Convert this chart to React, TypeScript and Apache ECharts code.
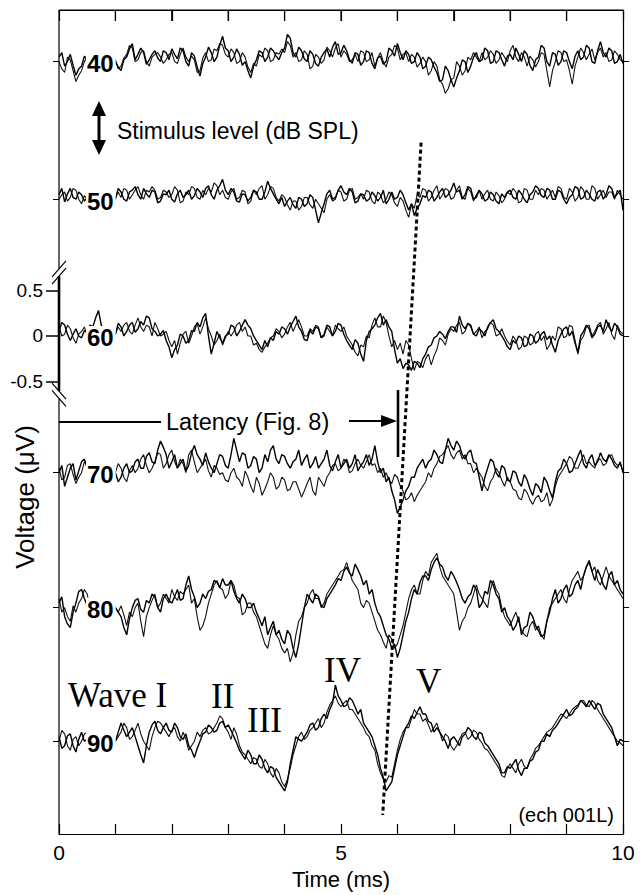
import React, { useEffect, useRef } from "react";
import * as echarts from "echarts";

// Stimulus levels (dB SPL) and vertical offset of each trace baseline (µV)
const levels = ["40", "50", "60", "70", "80", "90"];
const baselineOffsets = [3.03, 1.51, 0, -1.51, -3.0, -4.475];

// Time axis
const timeMin = 0;
const timeMax = 10;
const timeTicks = [1, 2, 3, 4, 5, 6, 7, 8, 9];
const timeTickLabels = [0, 5, 10];
// Voltage scale bar labels
const voltTickLabels = [0.5, 0, -0.5];

// Traces (µV relative to their own baseline), sampled every 0.05 ms from 0 to 10 ms
const trace40a = [0.05,0.1,-0.05,0.0,0.08,-0.04,-0.15,-0.08,-0.05,0.06,0.02,-0.03,0.0,0.08,0.05,0.0,-0.02,0.06,0.03,0.08,
0.0,-0.06,-0.1,0.02,0.05,0.14,0.2,0.02,0.08,0.15,0.1,-0.03,0.02,0.08,0.12,0.04,0.0,0.12,0.1,0.02,
0.14,0.08,0.03,0.15,0.12,0.0,-0.05,0.1,0.06,-0.06,-0.16,-0.02,0.05,0.16,0.1,0.0,0.05,0.18,0.28,0.15,
0.12,0.0,0.05,0.14,0.08,-0.04,0.0,-0.1,-0.18,-0.05,0.02,0.12,0.1,0.0,0.05,0.15,0.12,0.06,0.02,0.1,
0.15,0.3,0.26,0.1,0.05,0.16,0.12,0.03,0.0,0.12,0.08,-0.02,-0.05,0.05,0.1,0.14,0.05,0.16,0.22,0.08,
0.1,0.18,0.12,0.02,-0.02,0.1,0.08,-0.04,0.0,0.12,0.1,-0.02,-0.08,0.04,0.06,-0.03,0.0,0.15,0.12,0.06,
0.2,0.1,0.02,0.12,0.08,-0.02,0.0,0.1,0.05,-0.08,-0.05,0.05,0.02,-0.06,-0.12,-0.22,-0.2,-0.05,-0.1,-0.2,
-0.28,-0.18,-0.1,0.02,0.0,-0.12,-0.05,0.05,0.1,0.0,0.02,0.15,0.12,-0.02,0.0,0.12,0.1,0.02,-0.05,0.06,
0.08,0.02,0.15,0.08,0.0,0.12,0.08,-0.04,-0.1,0.02,0.05,0.18,0.15,0.0,-0.05,0.1,0.08,-0.04,0.0,0.12,
0.1,0.0,-0.08,0.06,0.12,0.02,0.05,0.18,0.15,0.0,-0.02,0.12,0.22,0.1,0.05,0.15,0.12,-0.02,0.0,0.08,
-0.02];
const trace40b = [0.0,-0.08,-0.12,0.05,0.02,-0.1,-0.22,-0.15,-0.1,0.0,0.05,-0.02,0.0,0.06,0.02,0.1,0.05,-0.05,-0.03,0.04,
0.02,-0.08,-0.05,0.04,0.08,0.18,0.15,0.0,0.02,0.1,0.12,0.0,-0.05,0.05,0.08,0.1,0.05,-0.02,0.02,0.08,
0.1,0.0,-0.02,0.08,0.15,0.05,0.0,0.06,0.02,-0.12,-0.1,0.04,0.1,0.0,0.02,0.14,0.12,0.2,0.18,0.08,
0.05,0.14,0.1,-0.02,0.0,0.1,0.05,-0.06,-0.12,-0.02,-0.05,0.08,0.05,0.15,0.12,0.0,0.02,0.1,0.08,0.14,
0.1,0.22,0.18,0.05,0.1,0.0,0.02,0.12,0.08,-0.08,-0.05,0.08,0.05,-0.02,0.02,0.16,0.12,0.05,0.15,0.2,
0.05,0.12,0.08,0.0,0.02,0.08,0.0,0.12,0.1,0.0,0.02,0.1,-0.05,0.04,0.1,0.0,-0.06,0.05,0.08,0.18,
0.15,0.02,0.08,0.1,0.0,0.08,0.05,-0.06,-0.02,0.05,0.0,-0.15,-0.1,0.0,-0.05,-0.2,-0.25,-0.35,-0.3,-0.2,
-0.18,0.0,-0.05,-0.15,-0.1,0.05,0.02,0.1,0.05,0.0,0.1,0.02,0.05,0.12,0.08,-0.02,0.02,0.1,0.05,0.0,
0.12,0.18,0.05,0.0,0.1,0.05,-0.05,0.06,0.02,-0.06,0.0,0.1,0.08,-0.1,-0.28,-0.1,0.0,0.12,0.1,0.0,
0.02,-0.1,-0.25,-0.05,0.05,0.15,0.1,0.02,0.08,0.14,0.02,0.1,0.15,0.05,0.1,0.0,0.02,0.12,0.08,0.02,
0.0];
const trace50a = [0.05,0.12,-0.03,0.06,0.12,0.02,0.0,0.08,0.05,-0.02,0.02,0.06,0.0,0.05,0.03,0.0,0.0,0.05,0.02,0.06,
0.0,0.12,0.08,0.0,-0.02,0.08,0.1,0.14,0.05,0.0,0.12,0.06,0.02,0.1,0.08,-0.04,-0.02,0.06,0.05,0.1,
0.0,-0.03,0.06,0.1,0.02,0.05,0.1,0.0,0.04,0.12,0.08,0.02,0.12,0.15,0.05,0.0,0.1,0.15,0.22,0.1,
0.05,0.12,0.08,-0.02,-0.03,0.06,0.05,-0.02,0.02,0.1,0.08,0.0,0.0,0.08,0.2,0.12,0.06,0.0,-0.05,0.02,
-0.08,-0.02,0.02,-0.06,-0.1,0.02,0.0,-0.08,-0.05,0.05,0.02,-0.12,-0.26,-0.15,-0.05,0.06,0.1,0.0,0.02,0.1,
0.15,0.08,0.05,0.12,0.08,-0.04,-0.02,0.06,0.05,-0.02,0.0,0.08,0.04,-0.02,0.02,0.1,-0.05,0.0,0.08,0.0,
0.02,0.1,0.05,-0.04,-0.12,-0.05,-0.18,-0.1,-0.05,0.04,0.02,0.1,0.08,-0.02,0.02,0.08,0.12,0.02,0.05,0.1,
0.18,0.08,0.1,0.0,0.05,0.14,0.12,0.0,0.02,0.1,0.06,-0.02,0.0,0.08,0.05,-0.02,-0.05,0.06,0.02,0.08,
0.1,0.02,0.0,0.1,0.06,0.0,-0.04,0.05,0.08,0.15,0.12,0.04,0.02,0.12,0.1,0.0,0.0,0.1,0.08,0.0,
-0.05,0.02,0.05,0.14,0.12,0.0,0.02,0.1,0.06,0.0,-0.02,0.08,0.1,0.0,0.05,0.15,0.12,0.02,0.06,0.1,
-0.12];
const trace50b = [0.0,0.05,0.08,-0.02,0.02,0.12,0.1,0.0,-0.05,0.04,0.0,0.06,0.02,-0.02,0.0,0.08,0.05,-0.03,0.0,0.05,
0.02,0.08,0.02,0.12,0.1,0.0,0.05,0.1,0.14,0.05,0.0,0.1,0.08,0.14,0.1,0.0,0.02,0.1,0.08,0.02,
0.05,0.14,0.1,-0.04,-0.02,0.08,0.05,0.14,0.12,0.02,0.0,0.1,0.05,0.12,0.08,0.18,0.15,0.05,0.1,0.02,
0.0,0.08,0.12,0.0,0.02,0.1,0.08,-0.05,-0.02,0.1,0.05,0.12,0.15,0.0,0.05,0.14,0.12,0.02,-0.02,0.05,
0.02,-0.06,-0.12,-0.02,-0.02,-0.12,-0.08,0.02,0.02,-0.06,-0.1,0.0,-0.05,-0.1,-0.15,0.0,0.05,-0.02,0.0,0.1,
0.08,-0.02,0.0,0.1,0.12,0.0,0.02,0.06,0.0,0.1,0.08,-0.02,-0.05,0.08,0.05,-0.04,0.0,0.08,0.05,-0.04,
-0.08,0.02,-0.02,-0.12,-0.2,-0.05,-0.1,0.05,0.02,0.12,0.1,-0.02,0.02,0.1,0.15,0.0,0.05,0.12,0.1,0.0,
0.02,0.1,0.15,0.02,0.0,0.12,0.08,-0.02,0.05,0.1,0.0,0.06,0.1,0.0,-0.02,0.08,0.04,-0.04,0.0,0.08,
0.05,0.12,0.08,-0.04,-0.02,0.12,0.1,0.0,0.0,0.1,0.05,0.12,0.1,0.0,0.05,0.1,0.02,0.14,0.12,0.02,
0.0,0.12,0.08,-0.02,0.02,0.14,0.1,0.0,0.0,0.15,0.12,0.0,0.05,0.1,0.02,0.08,0.08,0.0,0.1,0.05,
0.0];
const trace60a = [0.05,0.15,0.12,0.02,-0.05,0.02,0.08,0.0,-0.02,0.06,0.05,0.12,0.1,0.2,0.28,0.12,0.05,0.0,0.0,0.06,
0.02,0.14,0.1,0.0,0.05,0.12,0.15,0.04,0.08,0.16,0.12,0.22,0.2,0.08,0.05,0.0,0.02,0.06,-0.05,-0.12,
-0.24,-0.15,-0.1,0.02,0.0,-0.08,-0.05,0.06,0.05,0.15,0.1,0.2,0.25,0.0,-0.2,-0.08,0.05,-0.02,-0.08,0.0,
0.02,0.12,0.1,0.0,0.05,0.12,0.18,0.12,0.08,0.0,-0.05,-0.1,-0.15,-0.05,-0.12,-0.02,-0.05,0.05,0.02,0.1,
0.08,0.02,0.1,0.16,0.22,0.1,0.05,-0.04,-0.05,0.06,0.02,0.1,0.08,-0.02,0.02,0.12,0.1,0.0,0.05,0.14,
0.12,0.02,-0.05,-0.1,-0.15,-0.04,-0.08,-0.2,-0.28,-0.05,0.05,0.08,0.12,0.2,0.25,0.12,0.18,0.1,0.05,-0.15,
-0.3,-0.25,-0.36,-0.3,-0.32,-0.38,-0.28,-0.3,-0.35,-0.25,-0.2,-0.12,-0.1,-0.02,0.0,0.05,0.02,-0.03,0.05,0.1,
0.1,0.04,0.22,0.12,0.08,0.14,0.12,0.02,0.0,0.08,0.05,0.0,0.1,0.15,0.18,0.08,0.05,0.0,-0.05,-0.12,
-0.15,-0.05,-0.08,0.0,-0.02,-0.12,-0.1,0.02,0.0,-0.08,-0.05,0.02,0.05,-0.04,0.0,-0.1,-0.18,-0.05,0.02,0.08,
0.1,0.0,0.05,-0.08,-0.18,0.0,0.05,0.12,0.08,-0.02,0.02,0.1,0.12,0.05,0.18,0.1,0.05,0.14,0.1,0.02,
0.0];
const trace60b = [0.1,0.0,0.02,0.12,0.08,-0.02,-0.08,0.02,0.05,0.1,0.0,0.08,0.05,0.0,0.1,0.04,0.0,0.08,0.05,0.0,
0.02,0.1,0.05,0.12,0.15,0.05,0.02,0.12,0.2,0.1,0.05,0.12,0.1,0.0,0.15,0.08,0.0,0.02,0.05,-0.05,
-0.12,-0.05,-0.2,-0.08,0.02,0.05,-0.08,0.0,0.1,0.14,0.02,0.1,0.2,0.08,0.0,-0.1,-0.05,0.02,-0.1,-0.02,
0.05,0.0,0.05,0.12,0.15,0.05,0.1,0.0,0.0,-0.1,-0.08,-0.15,-0.18,-0.12,-0.08,-0.02,0.0,0.08,0.05,-0.02,
0.02,0.1,0.15,0.05,0.12,0.18,0.1,0.0,0.0,0.08,0.05,0.12,0.1,-0.02,0.0,0.1,0.05,0.0,0.12,0.08,
0.05,0.1,0.0,-0.05,-0.1,-0.18,-0.22,-0.1,-0.12,0.0,-0.02,0.12,0.2,0.1,0.1,0.22,0.15,0.0,-0.12,-0.05,
-0.15,-0.08,-0.2,-0.05,-0.1,-0.25,-0.38,-0.28,-0.3,-0.35,-0.25,-0.2,-0.32,-0.22,-0.15,-0.02,-0.05,-0.1,0.02,0.08,
0.05,0.12,0.15,0.02,0.05,0.14,0.1,0.02,0.05,0.1,-0.02,0.05,0.08,0.15,0.12,0.0,0.02,0.08,0.0,-0.06,
-0.1,0.0,-0.05,-0.15,-0.12,0.0,-0.02,-0.1,-0.08,0.02,0.05,-0.05,0.0,-0.15,-0.1,0.0,-0.05,0.1,0.08,-0.02,
0.0,0.12,0.1,-0.05,-0.2,-0.05,0.0,0.1,0.12,0.0,0.05,0.12,0.15,0.02,0.08,0.15,0.02,-0.04,0.12,0.05,
0.02];
const trace70a = [0.0,0.08,-0.15,-0.05,0.05,0.1,-0.08,0.02,0.12,0.15,0.05,0.0,0.0,0.0,0.0,0.0,0.0,0.0,0.0,0.0,
0.0,-0.1,-0.05,0.05,0.1,0.0,0.02,0.12,0.15,0.05,0.05,0.18,0.22,0.12,0.1,0.25,0.35,0.28,0.2,0.05,
0.12,0.2,0.05,0.1,0.15,0.02,0.08,0.22,0.3,0.2,0.15,0.08,0.22,0.12,0.05,0.0,0.1,0.2,0.18,0.08,
0.05,0.2,0.38,0.25,0.12,0.22,0.2,0.05,0.08,0.18,0.15,0.0,0.05,0.2,0.12,0.25,0.3,0.15,0.1,0.2,
0.18,0.1,0.05,0.12,0.15,0.25,0.08,0.15,0.2,0.05,0.1,0.18,0.05,0.1,0.15,0.25,0.08,0.02,0.12,0.2,
0.05,0.1,0.15,0.05,0.1,0.2,0.02,0.08,0.12,0.2,0.08,0.15,0.3,0.12,0.0,0.05,-0.1,-0.05,-0.2,-0.3,
-0.45,-0.38,-0.3,-0.2,-0.15,-0.05,-0.05,0.05,0.1,0.15,0.05,0.12,0.15,0.25,0.2,0.12,0.1,0.25,0.38,0.3,
0.25,0.35,0.3,0.2,0.15,0.22,0.25,0.12,0.1,-0.05,-0.2,-0.05,0.05,0.15,0.12,0.0,-0.05,0.08,0.05,-0.08,
-0.1,0.02,0.0,-0.1,-0.15,-0.02,-0.08,-0.18,-0.25,-0.12,-0.15,-0.22,-0.05,-0.1,-0.2,-0.28,-0.1,0.02,0.05,0.15,
0.1,0.0,0.02,0.1,0.18,0.25,0.1,0.05,0.15,0.2,0.08,0.12,0.22,0.15,0.12,0.2,0.15,0.08,0.05,0.12,
0.0];
const trace70b = [0.05,-0.08,-0.05,0.08,0.1,-0.02,-0.12,-0.05,0.0,0.12,0.08,0.0,0.0,0.0,0.0,0.0,0.0,0.0,0.0,0.0,
0.0,0.1,0.05,-0.05,-0.1,0.02,0.08,0.0,0.05,0.15,0.2,0.08,0.0,0.05,0.12,0.22,0.2,0.05,0.1,0.2,
0.25,0.12,0.05,0.15,0.1,0.0,0.2,0.25,0.12,0.0,0.05,0.1,0.15,0.02,-0.05,0.08,0.05,-0.02,0.0,-0.08,
-0.1,0.0,0.05,-0.05,-0.08,-0.15,0.02,-0.05,-0.15,-0.22,-0.05,-0.12,-0.25,-0.18,-0.1,0.0,-0.05,-0.18,-0.15,-0.05,
-0.08,-0.2,-0.18,-0.1,-0.1,-0.18,-0.27,-0.2,-0.12,-0.05,-0.2,-0.25,-0.05,-0.1,-0.15,-0.05,0.0,0.08,0.1,0.02,
0.05,0.15,0.12,0.0,0.02,0.1,0.15,0.08,0.05,0.12,0.2,0.08,0.1,0.0,0.05,-0.05,0.0,-0.08,-0.12,-0.02,
-0.05,-0.15,-0.2,-0.3,-0.28,-0.22,-0.32,-0.25,-0.2,-0.15,-0.1,0.0,-0.05,0.05,0.1,0.18,0.2,0.25,0.3,0.2,
0.15,0.22,0.25,0.15,0.2,0.1,0.1,0.0,0.05,0.0,-0.05,-0.15,-0.2,-0.1,-0.05,0.05,0.0,-0.08,-0.15,-0.05,
-0.1,-0.18,-0.2,-0.28,-0.3,-0.18,-0.22,-0.3,-0.35,-0.28,-0.25,-0.32,-0.3,-0.22,-0.37,-0.3,-0.15,-0.05,0.0,0.05,
0.1,0.18,0.15,0.05,0.05,0.12,0.2,0.1,0.12,0.08,0.05,0.15,0.15,0.08,0.1,0.18,0.2,0.12,0.08,0.1,
0.02];
const trace80a = [0.05,0.12,-0.1,-0.18,-0.22,-0.05,0.05,0.18,0.2,0.1,0.02,0.0,0.0,0.0,0.0,0.0,0.0,0.0,0.0,0.0,
0.0,-0.05,-0.1,-0.22,-0.3,-0.12,0.0,0.08,0.1,-0.02,-0.05,0.08,0.05,0.15,0.12,0.0,-0.05,0.1,0.15,0.08,
0.05,0.12,0.2,0.08,0.1,0.25,0.35,0.2,0.12,0.0,0.05,0.15,0.1,0.18,0.2,0.3,0.28,0.22,0.32,0.25,
0.25,0.3,0.18,0.1,0.05,0.15,0.1,0.0,0.0,0.05,-0.05,-0.12,-0.2,-0.1,-0.3,-0.22,-0.15,-0.3,-0.25,-0.35,
-0.4,-0.25,-0.3,-0.45,-0.55,-0.4,-0.2,0.0,0.15,0.1,0.05,0.15,0.12,0.02,0.0,0.1,0.15,0.2,0.25,0.32,
0.3,0.4,0.45,0.38,0.35,0.48,0.42,0.35,0.25,0.3,0.15,0.2,0.05,-0.05,-0.1,-0.2,-0.3,-0.35,-0.45,-0.4,
-0.55,-0.45,-0.3,-0.15,-0.05,0.1,0.2,0.15,0.28,0.35,0.35,0.3,0.42,0.5,0.55,0.48,0.45,0.35,0.3,0.4,
0.35,0.28,0.2,0.1,0.05,0.12,0.15,0.25,0.2,0.0,0.05,0.18,0.15,0.3,0.25,0.15,0.1,-0.05,0.0,-0.1,
-0.15,-0.25,-0.2,-0.1,-0.3,-0.22,-0.2,-0.05,-0.1,-0.2,-0.25,-0.32,-0.3,-0.15,-0.05,0.1,0.2,0.05,0.1,0.2,
0.25,0.12,0.15,0.25,0.3,0.2,0.35,0.45,0.52,0.4,0.3,0.42,0.35,0.25,0.2,0.35,0.4,0.25,0.3,0.2,
0.15];
const trace80b = [0.1,-0.05,0.0,-0.1,-0.15,0.02,-0.05,0.05,0.1,0.2,0.15,0.0,0.0,0.0,0.0,0.0,0.0,0.0,0.0,0.0,
0.0,-0.05,0.02,-0.08,-0.2,-0.05,-0.1,0.0,0.05,-0.15,-0.32,-0.1,0.0,0.08,0.15,0.0,0.05,0.15,0.1,0.05,
0.2,0.12,0.08,0.18,0.15,0.2,0.25,0.05,0.1,-0.1,-0.25,-0.2,-0.1,0.05,0.15,0.25,0.3,0.22,0.2,0.1,
0.15,0.3,0.25,0.12,0.1,-0.08,-0.05,0.05,0.05,-0.05,-0.1,-0.2,-0.3,-0.4,-0.45,-0.3,-0.2,-0.3,-0.35,-0.45,
-0.5,-0.45,-0.6,-0.5,-0.3,-0.15,-0.1,0.0,0.05,0.15,0.2,0.1,0.1,0.0,0.05,0.15,0.2,0.25,0.3,0.35,
0.4,0.42,0.5,0.4,0.3,0.25,0.2,0.05,0.0,0.08,0.05,-0.05,-0.15,-0.25,-0.3,-0.38,-0.45,-0.3,-0.35,-0.45,
-0.4,-0.3,-0.2,-0.05,0.1,0.2,0.25,0.15,0.15,0.3,0.4,0.35,0.5,0.55,0.6,0.45,0.35,0.3,0.25,0.2,
0.15,-0.05,-0.25,-0.15,-0.1,0.0,0.05,0.15,0.25,0.15,0.1,0.05,0.0,0.2,0.3,0.2,0.15,0.0,-0.1,-0.15,
-0.2,-0.12,-0.05,-0.15,-0.25,-0.3,-0.32,-0.2,-0.15,-0.25,-0.2,-0.3,-0.35,-0.15,0.0,0.05,0.1,0.15,0.2,0.1,
0.05,0.2,0.3,0.35,0.4,0.3,0.35,0.45,0.5,0.4,0.45,0.3,0.25,0.35,0.45,0.35,0.3,0.25,0.2,0.15,
0.1];
const trace90a = [0.05,-0.08,-0.05,0.06,0.08,-0.05,-0.12,0.02,0.1,0.0,0.02,0.0,0.0,0.0,0.0,0.0,0.0,0.0,0.0,0.0,
0.0,0.1,0.2,0.12,0.05,0.1,0.15,0.05,-0.05,-0.15,-0.24,-0.05,0.1,0.18,0.22,0.12,0.08,0.15,0.2,0.12,
0.1,0.2,0.15,0.05,0.02,0.08,-0.05,-0.1,-0.18,-0.08,0.0,0.08,0.1,0.18,0.15,0.1,0.12,0.2,0.22,0.15,
0.18,0.12,0.05,-0.02,-0.1,-0.15,-0.2,-0.1,-0.15,-0.25,-0.25,-0.15,-0.2,-0.3,-0.35,-0.28,-0.3,-0.4,-0.45,-0.5,
-0.55,-0.45,-0.25,-0.1,0.05,0.02,0.0,0.05,0.1,0.18,0.2,0.12,0.15,0.25,0.3,0.25,0.35,0.42,0.62,0.5,
0.45,0.38,0.4,0.48,0.45,0.38,0.3,0.35,0.2,0.15,0.1,0.05,-0.05,-0.15,-0.3,-0.4,-0.55,-0.5,-0.45,-0.3,
-0.15,-0.05,0.05,0.15,0.2,0.28,0.25,0.32,0.38,0.3,0.3,0.22,0.2,0.1,0.15,0.1,0.05,0.0,-0.08,0.02,
0.05,0.0,-0.05,0.05,0.08,0.15,0.12,0.05,0.02,0.1,0.08,-0.02,-0.05,-0.1,-0.15,-0.2,-0.25,-0.35,-0.35,-0.28,
-0.3,-0.25,-0.2,-0.32,-0.38,-0.3,-0.3,-0.22,-0.2,-0.12,-0.1,0.0,0.0,0.08,0.05,0.12,0.15,0.2,0.25,0.3,
0.35,0.28,0.3,0.35,0.38,0.45,0.42,0.38,0.45,0.4,0.35,0.42,0.4,0.3,0.25,0.2,0.15,0.05,-0.05,0.02,
0.0];
const trace90b = [0.0,0.12,0.08,-0.05,-0.1,0.02,0.05,-0.05,0.0,0.08,0.1,0.0,0.0,0.0,0.0,0.0,0.0,0.0,0.0,0.0,
0.0,0.05,0.1,0.2,0.15,0.02,0.05,0.12,0.2,0.08,0.0,-0.05,-0.1,0.05,0.15,0.22,0.2,0.15,0.1,0.05,
0.12,0.15,0.05,0.0,0.1,0.02,-0.1,-0.05,0.0,0.1,0.05,0.12,0.15,0.08,0.1,0.15,0.2,0.28,0.25,0.15,
0.1,0.02,0.15,0.08,-0.05,-0.12,-0.15,-0.2,-0.25,-0.18,-0.2,-0.28,-0.3,-0.2,-0.25,-0.35,-0.4,-0.3,-0.35,-0.45,
-0.5,-0.42,-0.3,-0.15,-0.05,0.05,0.1,0.02,0.05,0.12,0.15,0.2,0.25,0.15,0.2,0.32,0.4,0.45,0.5,0.42,
0.38,0.42,0.45,0.35,0.35,0.3,0.25,0.2,0.15,0.08,0.05,-0.05,-0.1,-0.25,-0.35,-0.42,-0.45,-0.38,-0.4,-0.25,
-0.1,0.02,0.1,0.15,0.15,0.25,0.35,0.3,0.3,0.22,0.25,0.18,0.1,0.15,0.2,0.1,0.0,0.08,0.05,-0.05,
-0.1,-0.05,0.02,0.08,0.1,0.02,0.05,0.12,0.1,0.02,-0.02,-0.08,-0.1,-0.15,-0.2,-0.25,-0.3,-0.38,-0.4,-0.3,
-0.25,-0.3,-0.35,-0.25,-0.2,-0.28,-0.3,-0.2,-0.15,-0.08,-0.05,0.0,0.05,0.1,0.12,0.15,0.2,0.25,0.3,0.28,
0.25,0.3,0.35,0.38,0.4,0.45,0.45,0.4,0.38,0.45,0.42,0.35,0.3,0.25,0.2,0.15,0.1,0.05,0.0,-0.02,
-0.05];

const tracesA = [trace40a, trace50a, trace60a, trace70a, trace80a, trace90a];
const tracesB = [trace40b, trace50b, trace60b, trace70b, trace80b, trace90b];

// Latency trend (dotted line) end points: [time ms, µV on the stacked axis]
const latencyTrend = [
  [6.42, 2.135],
  [5.74, -5.29],
];

const Y_MIN = -5.5;
const Y_MAX = 3.6;
const SANS = '"Liberation Sans", Arial, sans-serif';
const SERIF = '"Liberation Serif", "Times New Roman", serif';

function toSeries(arr: number[], offset: number) {
  const n = arr.length - 1;
  return arr.map((v, i) => [timeMin + ((timeMax - timeMin) * i) / n, v + offset]);
}

function buildOption() {
  const series: any[] = [];
  levels.forEach((_, i) => {
    series.push({
      type: "line",
      data: toSeries(tracesB[i], baselineOffsets[i]),
      showSymbol: false,
      symbol: "none",
      silent: true,
      lineStyle: { color: "#111", width: 1.1 },
      z: 2,
    });
    series.push({
      type: "line",
      data: toSeries(tracesA[i], baselineOffsets[i]),
      showSymbol: false,
      symbol: "none",
      silent: true,
      lineStyle: { color: "#000", width: 1.4 },
      z: 2,
    });
  });
  series.push({
    type: "line",
    data: latencyTrend,
    showSymbol: false,
    symbol: "none",
    silent: true,
    lineStyle: { color: "#000", width: 3, type: [4, 3] },
    z: 3,
  });

  return {
    animation: false,
    backgroundColor: "#fff",
    grid: { left: 59, right: 17, top: 10, bottom: 59 },
    xAxis: [
      {
        type: "value",
        min: timeMin,
        max: timeMax,
        interval: 1,
        position: "bottom",
        name: "Time (ms)",
        nameLocation: "middle",
        nameGap: 34,
        nameTextStyle: { fontSize: 22, color: "#000", fontFamily: SANS },
        axisLine: { show: true, onZero: false, lineStyle: { color: "#000", width: 1.2 } },
        axisTick: { show: true, inside: true, length: 10, lineStyle: { color: "#000", width: 1.2 } },
        axisLabel: {
          color: "#000",
          fontSize: 21,
          fontFamily: SANS,
          margin: 8,
          formatter: (v: number) => (timeTickLabels.includes(v) ? String(v) : ""),
        },
        splitLine: { show: false },
      },
      {
        type: "value",
        min: timeMin,
        max: timeMax,
        interval: 1,
        position: "top",
        axisLine: { show: true, onZero: false, lineStyle: { color: "#000", width: 1.2 } },
        axisTick: { show: true, inside: true, length: 11, lineStyle: { color: "#000", width: 1.2 } },
        axisLabel: { show: false },
        splitLine: { show: false },
      },
    ],
    yAxis: [
      {
        type: "value",
        min: Y_MIN,
        max: Y_MAX,
        position: "left",
        axisLine: { show: false, onZero: false },
        splitLine: { show: false },
        axisTick: { show: true, customValues: voltTickLabels, length: 13, lineStyle: { color: "#000", width: 1.5 } },
        axisLabel: {
          customValues: voltTickLabels,
          color: "#000",
          fontSize: 19,
          fontFamily: SANS,
          margin: 16,
          formatter: (v: number) => String(v),
        },
      },
      {
        type: "value",
        min: Y_MIN,
        max: Y_MAX,
        position: "left",
        axisLine: { show: false, onZero: false },
        splitLine: { show: false },
        axisTick: {
          show: true,
          customValues: baselineOffsets.filter((v) => v !== 0),
          length: 6,
          lineStyle: { color: "#000", width: 1 },
        },
        axisLabel: { show: false },
      },
      {
        type: "value",
        min: Y_MIN,
        max: Y_MAX,
        position: "right",
        axisLine: { show: true, onZero: false, lineStyle: { color: "#000", width: 1.2 } },
        splitLine: { show: false },
        axisTick: { show: true, customValues: baselineOffsets, length: 6, lineStyle: { color: "#000", width: 1 } },
        axisLabel: { show: false },
      },
    ],
    series,
  };
}

function seg(x1: number, y1: number, x2: number, y2: number, w: number) {
  return {
    type: "line",
    z: 50,
    silent: true,
    shape: { x1, y1, x2, y2 },
    style: { stroke: "#000", lineWidth: w },
  };
}

function txt(text: string, x: number, y: number, size: number, opts: any = {}) {
  const align = opts.align || "left";
  return {
    type: "text",
    z: 60,
    silent: true,
    x,
    y,
    rotation: opts.rotation || 0,
    style: {
      text,
      fill: "#000",
      fontSize: size,
      fontFamily: opts.family || SANS,
      fontWeight: opts.weight || "normal",
      align,
      textAlign: align,
      verticalAlign: "middle",
      textVerticalAlign: "middle",
      backgroundColor: opts.bg,
      padding: opts.padding,
    },
  };
}

function buildGraphic(xp: (t: number) => number, yp: (v: number) => number) {
  const g: any[] = [];
  const X0 = xp(timeMin);
  const X1 = xp(timeMax);
  const yTop = yp(Y_MAX);
  const yBot = yp(Y_MIN);
  // top frame with inward ticks
  g.push(seg(X0, yTop, X1, yTop, 1.2));
  timeTicks.forEach((t) => g.push(seg(xp(t), yTop, xp(t), yTop + 11, 1.2)));
  // broken left axis
  const b1 = yp(0.74), b2 = yp(0.66), b3 = yp(-0.61), b4 = yp(-0.69);
  g.push(seg(X0, yTop, X0, b1, 1.2));
  g.push(seg(X0, b2, X0, b3, 2.6));
  g.push(seg(X0, b4, X0, yBot, 1.2));
  [b1, b2].forEach((c) => g.push(seg(X0 - 7, c + 8, X0 + 7, c - 8, 1.2)));
  [b3, b4].forEach((c) => g.push(seg(X0 - 7, c - 8, X0 + 7, c + 8, 1.2)));

  // level labels
  levels.forEach((lab, i) => {
    g.push(
      txt(lab, 86, yp(baselineOffsets[i]) + 2, 24, {
        weight: "bold",
        bg: "#fff",
        padding: [0, 2, 0, 1],
      })
    );
  });

  // stimulus level double arrow
  g.push(seg(99, 113, 99, 143, 3));
  g.push({ type: "polygon", z: 50, silent: true, shape: { points: [[99, 101], [92, 116], [106, 116]] }, style: { fill: "#000" } });
  g.push({ type: "polygon", z: 50, silent: true, shape: { points: [[99, 155], [92, 140], [106, 140]] }, style: { fill: "#000" } });
  g.push(txt("Stimulus level (dB SPL)", 117, 131, 23));

  // latency indicator
  g.push(seg(X0, 422, 161, 422, 2.2));
  g.push(txt("Latency (Fig. 8)", 166, 422, 23.5));
  g.push(seg(349, 421, 384, 421, 2.2));
  g.push({ type: "polygon", z: 50, silent: true, shape: { points: [[397, 421], [381, 415], [381, 427]] }, style: { fill: "#000" } });
  g.push(seg(398, 390, 398, 457, 2.6));

  // wave labels
  g.push(txt("Wave I", 68, 695, 35, { family: SERIF }));
  g.push(txt("II", 211, 696, 35, { family: SERIF }));
  g.push(txt("III", 247, 720, 35, { family: SERIF }));
  g.push(txt("IV", 324, 670, 35, { family: SERIF }));
  g.push(txt("V", 416, 681, 35, { family: SERIF }));

  g.push(txt("(ech 001L)", 614, 815, 20, { align: "right" }));
  g.push(txt("Voltage (\u03bcV)", 25, 497, 26, { align: "center", rotation: Math.PI / 2 }));
  return g;
}

export default function App() {
  const ref = useRef<HTMLDivElement>(null);
  useEffect(() => {
    document.body.style.margin = "0";
    const chart = echarts.init(ref.current as HTMLDivElement, null, { renderer: "svg" });
    chart.setOption(buildOption() as any);
    const xp = (t: number) => chart.convertToPixel({ xAxisIndex: 0 }, t) as number;
    const yp = (v: number) => chart.convertToPixel({ yAxisIndex: 0 }, v) as number;
    chart.setOption({ graphic: { elements: buildGraphic(xp, yp) } } as any);
    return () => chart.dispose();
  }, []);
  return <div ref={ref} style={{ width: 640, height: 895 }} />;
}
